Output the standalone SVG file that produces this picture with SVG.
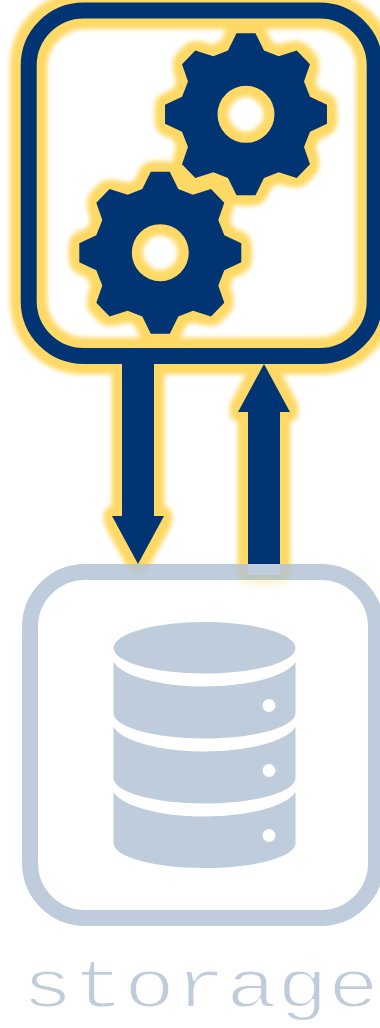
<svg xmlns="http://www.w3.org/2000/svg" xmlns:xlink="http://www.w3.org/1999/xlink" width="380" height="1028" viewBox="0 0 380 1028">
<style>
.p{fill:#003473}
.s{fill:#bfccdc}
.box{fill:none;stroke-width:16}
text{font-family:"Liberation Mono","Courier New",monospace;font-size:68px;fill:#bfccdc;stroke:#fff;stroke-width:1.9px}
</style>
<defs>
<filter id="glow" filterUnits="userSpaceOnUse" x="-40" y="-40" width="460" height="680" color-interpolation-filters="sRGB">
<feGaussianBlur in="SourceAlpha" stdDeviation="5" result="b"/>
<feComponentTransfer in="b" result="a"><feFuncA type="linear" slope="90"/></feComponentTransfer>
<feGaussianBlur in="a" stdDeviation="2.200" result="a2"/>
<feFlood flood-color="#ffd966"/>
<feComposite in2="a2" operator="in" result="g"/>
<feMerge><feMergeNode in="g"/><feMergeNode in="SourceGraphic"/></feMerge>
</filter>
<path id="gear" d="M-9.500-81H9.500L18-63.700 32.700-58 50.700-63.700 64-50 58-32.700 64-17.500 81-9.500V9.500L64 17.500 58 32.700 64 50 50.700 63.700 32.700 58 18 63.700 9.500 81H-9.500L-18 63.700-32.700 58-50.700 63.700-64 50-58 32.700-64 17.500-81 9.500V-9.500L-64-17.500-58-32.700-64-50-50.700-63.700-32.700-58-18-63.700Z M0-28.500A28.500 28.500 0 1 0 0 28.500 28.500 28.500 0 1 0 0-28.500Z"/>
</defs>
<rect width="380" height="1028" fill="#fff"/>
<g filter="url(#glow)">
<g id="connectors">
<path class="p" d="M122 356H154V516H164L138 564 112 516H122Z"/>
<path class="p" d="M248 575V412H238L264 364 290 412H280V575Z"/>
</g>
<g id="processing">
<rect class="box" x="28.700" y="10.500" width="346" height="345.500" rx="55" stroke="#003473"/>
<use class="p" xlink:href="#gear" href="#gear" x="246" y="114.300" fill-rule="evenodd"/>
<use class="p" xlink:href="#gear" href="#gear" x="160.300" y="252.700" fill-rule="evenodd"/>
</g>
</g>
<g id="storage">
<rect x="22" y="564" width="362" height="362" rx="63" fill="#fff" fill-opacity=".75"/>
<rect class="box" x="30" y="572" width="346" height="346" rx="55" stroke="#003473" stroke-opacity=".25"/>
<rect x="248" y="564" width="32" height="11" fill="#c0cddd"/>
<path class="s" d="M113.500 648C113.500 634 154 622 204.500 622S295.500 634 295.500 648 255 673.500 204.500 673.500 113.500 662 113.500 648Z"/>
<path class="s" fill-rule="evenodd" d="M113.500 662C122 676 160 686.500 204.500 686.500S287 676 295.500 662V713C295.500 727 255 738.500 204.500 738.500S113.500 727 113.500 713Z M269 699A6.500 6.500 0 1 0 269 712 6.500 6.500 0 1 0 269 699Z"/>
<path class="s" fill-rule="evenodd" d="M113.500 727C122 741 160 751.500 204.500 751.500S287 741 295.500 727V778C295.500 792 255 803.500 204.500 803.500S113.500 792 113.500 778Z M269 764A6.500 6.500 0 1 0 269 777 6.500 6.500 0 1 0 269 764Z"/>
<path class="s" fill-rule="evenodd" d="M113.500 792C122 806 160 816.500 204.500 816.500S287 806 295.500 792V843C295.500 857 255 868 204.500 868S113.500 857 113.500 843Z M269 829A6.500 6.500 0 1 0 269 842 6.500 6.500 0 1 0 269 829Z"/>
<text transform="translate(22 1007) scale(1.25 1)">storage</text>
</g>
</svg>
